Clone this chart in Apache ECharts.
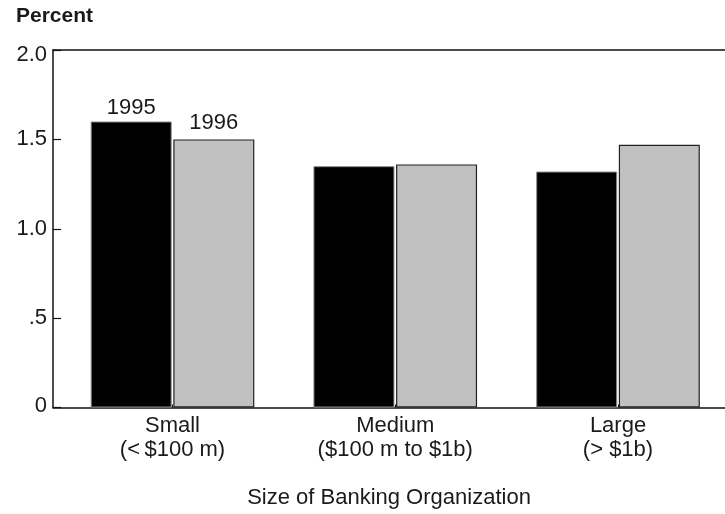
<!DOCTYPE html>
<html>
<head>
<meta charset="utf-8">
<script src="https://cdn.jsdelivr.net/npm/echarts@6/dist/echarts.min.js"></script>
<style>
html,body{margin:0;padding:0;background:#fff;}
#chart{width:725px;height:514px;}
</style>
</head>
<body>
<div id="chart"></div>
<script>
var categories = ['Small\n(<\u2009$100 m)', 'Medium\n($100 m to $1b)', 'Large\n(> $1b)'];
var categoryPositions = [0, 1, 2];
var series1995 = [1.60, 1.35, 1.32];
var series1996 = [1.50, 1.36, 1.47];
var seriesNames = ['1995', '1996'];
var yTicks = [0, 0.5, 1.0, 1.5, 2.0];
var yTickLabels = ['0', '.5', '1.0', '1.5', '2.0'];

var FONT = '"Liberation Sans", Arial, Helvetica, sans-serif';
var TXT = '#1a1a1a';
var chart = echarts.init(document.getElementById('chart'), null, {renderer: 'canvas'});

function buildData(vals) {
  return vals.map(function (v, i) {
    var item = {value: [categoryPositions[i], v]};
    if (i === 0) item.label = {show: true};
    return item;
  });
}

var X_MIN = -0.5365, X_MAX = 2.4803;

var option = {
  animation: false,
  backgroundColor: '#fff',
  title: {
    text: 'Percent',
    left: 11,
    top: 1,
    textStyle: {fontFamily: FONT, fontSize: 21, fontWeight: 'bold', color: TXT}
  },
  grid: {
    left: 53, right: 0, top: 50, bottom: 106.5,
    show: false, containLabel: false
  },
  xAxis: [{
    type: 'value',
    min: X_MIN,
    max: X_MAX,
    axisLine: {show: true, onZero: false, lineStyle: {color: '#111', width: 1.5}},
    axisTick: {show: true, inside: true, length: 3, customValues: categoryPositions, lineStyle: {color: '#111'}},
    splitLine: {show: false},
    axisLabel: {
      customValues: categoryPositions,
      margin: 6,
      fontFamily: FONT, fontSize: 22, color: TXT, lineHeight: 24,
      formatter: function (v) {
        var idx = categoryPositions.indexOf(Math.round(v));
        return idx >= 0 ? categories[idx] : '';
      }
    },
    name: 'Size of Banking Organization',
    nameLocation: 'middle',
    nameGap: 79,
    nameTextStyle: {fontFamily: FONT, fontSize: 22, color: TXT}
  }, {
    type: 'value',
    position: 'top',
    min: X_MIN,
    max: X_MAX,
    axisLine: {show: true, onZero: false, lineStyle: {color: '#111', width: 1.5}},
    axisTick: {show: false},
    axisLabel: {show: false},
    splitLine: {show: false}
  }],
  yAxis: {
    type: 'value',
    min: 0, max: 2, interval: 0.5,
    axisLine: {show: true, onZero: false, lineStyle: {color: '#111', width: 1.5}},
    axisTick: {show: true, inside: true, length: 8, lineStyle: {color: '#111', width: 1.2}},
    splitLine: {show: false},
    axisLabel: {
      margin: 6,
      fontFamily: FONT, fontSize: 22, color: TXT,
      formatter: function (v) {
        for (var i = 0; i < yTicks.length; i++) {
          if (Math.abs(yTicks[i] - v) < 1e-9) {
            if (i === yTicks.length - 1) return '{top|' + yTickLabels[i] + '}';
            if (i === 0) return '{bot|' + yTickLabels[i] + '}';
            return yTickLabels[i];
          }
        }
        return '';
      },
      rich: {
        top: {fontFamily: FONT, fontSize: 22, color: TXT, padding: [9, 0, 0, 0]},
        bot: {fontFamily: FONT, fontSize: 22, color: TXT, padding: [0, 0, 4, 0]}
      }
    }
  },
  series: [
    {
      name: seriesNames[0],
      type: 'bar',
      barWidth: 81,
      barGap: '2%',
      data: buildData(series1995),
      itemStyle: {color: '#000', borderColor: '#888', borderWidth: 1},
      label: {show: false, position: 'top', distance: 3, formatter: seriesNames[0],
              fontFamily: FONT, fontSize: 22, color: TXT}
    },
    {
      name: seriesNames[1],
      type: 'bar',
      barWidth: 81,
      data: buildData(series1996),
      itemStyle: {color: '#c0c0c0', borderColor: '#222', borderWidth: 1.2},
      label: {show: false, position: 'top', distance: 5, formatter: seriesNames[1],
              fontFamily: FONT, fontSize: 22, color: TXT}
    }
  ]
};
chart.setOption(option);
</script>
</body>
</html>
